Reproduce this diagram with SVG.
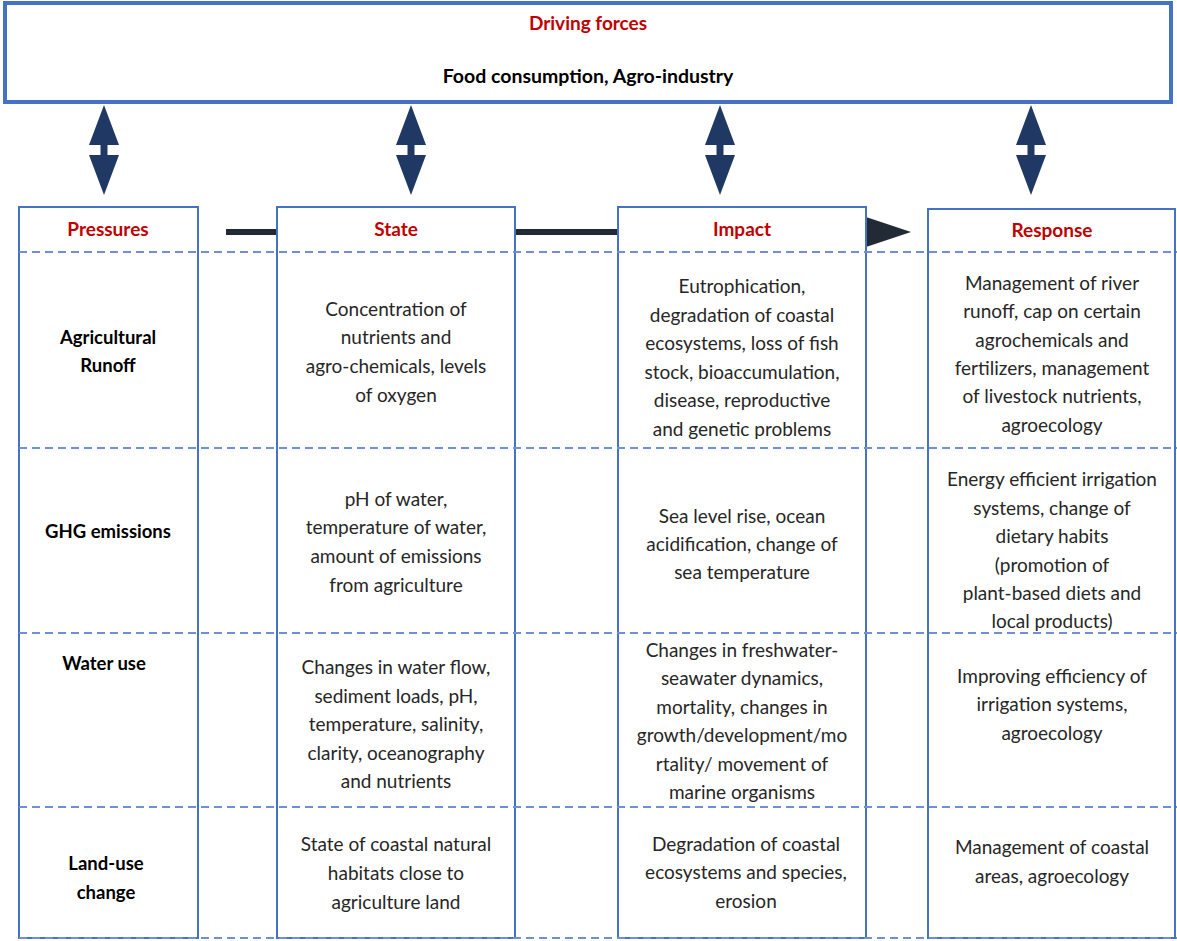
<svg xmlns="http://www.w3.org/2000/svg" width="1177" height="941" viewBox="0 0 1177 941">
<style>
.box{fill:#fff;stroke:#4472C4;stroke-width:2}
.top{fill:#fff;stroke:#4472C4;stroke-width:4}
.dash{stroke:#6F8FD8;stroke-width:2;stroke-dasharray:8 5;fill:none}
.hd{font-family:Lato,"Liberation Sans",sans-serif;font-weight:bold;font-size:19px;fill:#C00000;text-anchor:middle}
.lb{font-family:Lato,"Liberation Sans",sans-serif;font-weight:bold;font-size:18.5px;fill:#000;text-anchor:middle}
.tx{font-family:Lato,"Liberation Sans",sans-serif;font-size:19px;fill:#262626;text-anchor:middle}
.dbl{fill:#203864}
</style>
<defs>
<path id="darrow" d="M0,105 L15,145 L3.5,145 L3.5,155 L15,155 L0,195 L-15,155 L-3.5,155 L-3.5,145 L-15,145 Z"/>
</defs>
<g id="connectors">
<line x1="226" y1="232" x2="870" y2="232" stroke="#222A35" stroke-width="6"/>
<polygon points="866,217 911,232 866,247" fill="#222A35"/>
<use href="#darrow" x="104" class="dbl"/>
<use href="#darrow" x="411" class="dbl"/>
<use href="#darrow" x="720" class="dbl"/>
<use href="#darrow" x="1031" class="dbl"/>
</g>
<g id="driving-forces">
<rect class="top" x="5" y="3" width="1166" height="99"/>
<text class="hd" x="588" y="30">Driving forces</text>
<text class="lb" x="588" y="83" style="font-size:19.5px">Food consumption, Agro-industry</text>
</g>
<g id="pressures">
<rect class="box" x="19" y="207" width="179" height="731"/>
<text class="hd" x="108" y="236">Pressures</text>
<text class="lb" x="108" y="344">Agricultural</text>
<text class="lb" x="108" y="372">Runoff</text>
<text class="lb" x="108" y="538">GHG emissions</text>
<text class="lb" x="104" y="670">Water use</text>
<text class="lb" x="106" y="870">Land-use</text>
<text class="lb" x="106" y="899">change</text>
</g>
<g id="state">
<rect class="box" x="277" y="207" width="238" height="731"/>
<text class="hd" x="396" y="236">State</text>
<text class="tx" x="396" y="316">Concentration of</text>
<text class="tx" x="396" y="344">nutrients and</text>
<text class="tx" x="396" y="373">agro-chemicals, levels</text>
<text class="tx" x="396" y="402">of oxygen</text>
<text class="tx" x="396" y="506">pH of water,</text>
<text class="tx" x="396" y="534">temperature of water,</text>
<text class="tx" x="396" y="563">amount of emissions</text>
<text class="tx" x="396" y="592">from agriculture</text>
<text class="tx" x="396" y="674">Changes in water flow,</text>
<text class="tx" x="396" y="703">sediment loads, pH,</text>
<text class="tx" x="396" y="731">temperature, salinity,</text>
<text class="tx" x="396" y="760">clarity, oceanography</text>
<text class="tx" x="396" y="788">and nutrients</text>
<text class="tx" x="396" y="851">State of coastal natural</text>
<text class="tx" x="396" y="880">habitats close to</text>
<text class="tx" x="396" y="909">agriculture land</text>
</g>
<g id="impact">
<rect class="box" x="618" y="207" width="248" height="731"/>
<text class="hd" x="742" y="236">Impact</text>
<text class="tx" x="742" y="293">Eutrophication,</text>
<text class="tx" x="742" y="322">degradation of coastal</text>
<text class="tx" x="742" y="350">ecosystems, loss of fish</text>
<text class="tx" x="742" y="379">stock, bioaccumulation,</text>
<text class="tx" x="742" y="407">disease, reproductive</text>
<text class="tx" x="742" y="436">and genetic problems</text>
<text class="tx" x="742" y="523">Sea level rise, ocean</text>
<text class="tx" x="742" y="551">acidification, change of</text>
<text class="tx" x="742" y="579">sea temperature</text>
<text class="tx" x="742" y="657">Changes in freshwater-</text>
<text class="tx" x="742" y="685">seawater dynamics,</text>
<text class="tx" x="742" y="714">mortality, changes in</text>
<text class="tx" x="742" y="742">growth/development/mo</text>
<text class="tx" x="742" y="771">rtality/ movement of</text>
<text class="tx" x="742" y="799">marine organisms</text>
<text class="tx" x="746" y="851">Degradation of coastal</text>
<text class="tx" x="746" y="879">ecosystems and species,</text>
<text class="tx" x="746" y="908">erosion</text>
</g>
<g id="response">
<rect class="box" x="928" y="209" width="247" height="729"/>
<text class="hd" x="1052" y="237">Response</text>
<text class="tx" x="1052" y="290">Management of river</text>
<text class="tx" x="1052" y="318">runoff, cap on certain</text>
<text class="tx" x="1052" y="347">agrochemicals and</text>
<text class="tx" x="1052" y="375">fertilizers, management</text>
<text class="tx" x="1052" y="403">of livestock nutrients,</text>
<text class="tx" x="1052" y="432">agroecology</text>
<text class="tx" x="1052" y="486">Energy efficient irrigation</text>
<text class="tx" x="1052" y="515">systems, change of</text>
<text class="tx" x="1052" y="543">dietary habits</text>
<text class="tx" x="1052" y="572">(promotion of</text>
<text class="tx" x="1052" y="600">plant-based diets and</text>
<text class="tx" x="1052" y="628">local products)</text>
<text class="tx" x="1052" y="683">Improving efficiency of</text>
<text class="tx" x="1052" y="711">irrigation systems,</text>
<text class="tx" x="1052" y="740">agroecology</text>
<text class="tx" x="1052" y="854">Management of coastal</text>
<text class="tx" x="1052" y="883">areas, agroecology</text>
</g>
<g id="row-dividers">
<line class="dash" x1="19" y1="252" x2="1177" y2="252"/>
<line class="dash" x1="19" y1="448" x2="1177" y2="448"/>
<line class="dash" x1="19" y1="633" x2="1177" y2="633"/>
<line class="dash" x1="19" y1="807" x2="1177" y2="807"/>
<line class="dash" x1="19" y1="938" x2="1177" y2="938"/>
</g>
</svg>
